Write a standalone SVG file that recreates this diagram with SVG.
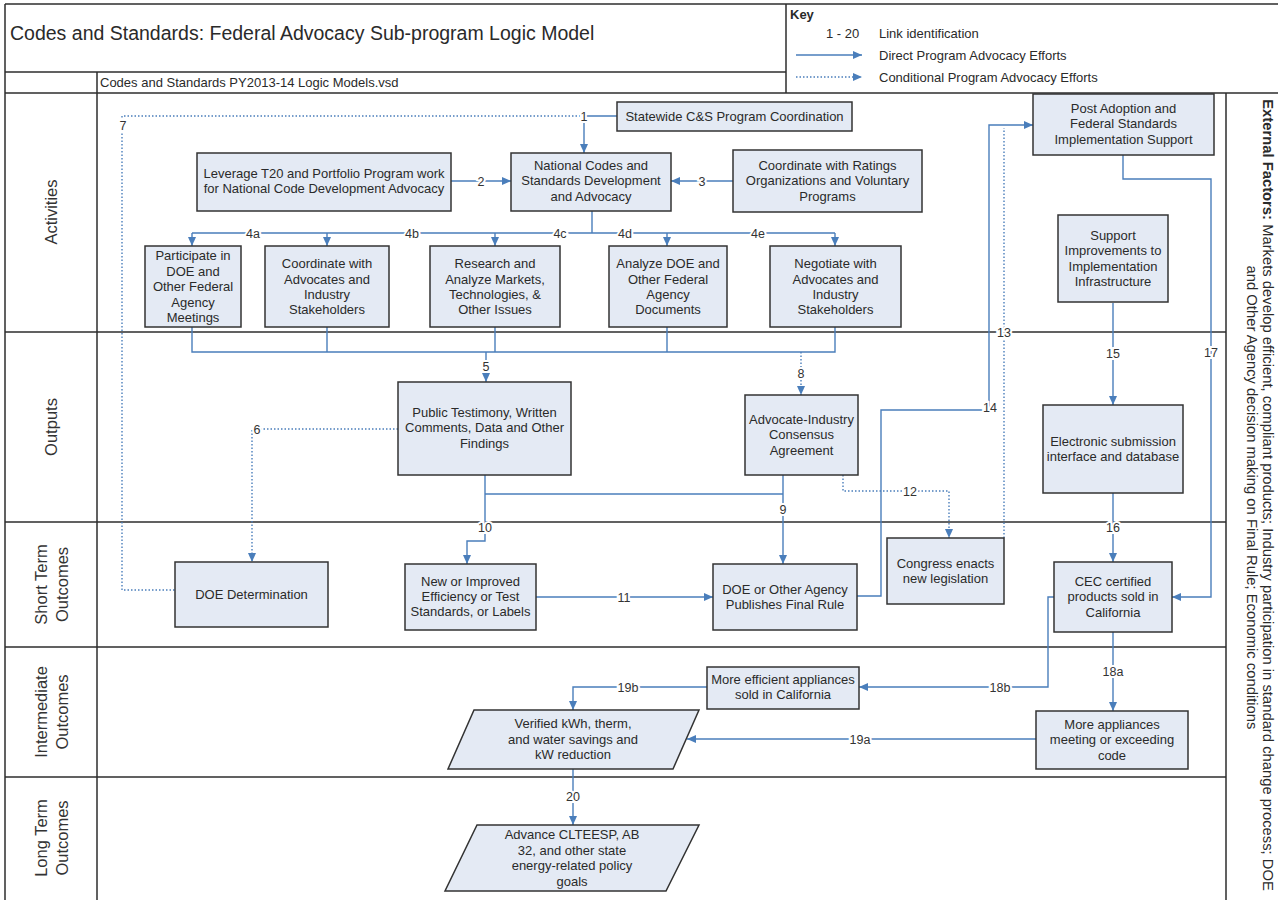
<svg xmlns="http://www.w3.org/2000/svg" width="1278" height="900" viewBox="0 0 1278 900">
<defs>
<style>
.frame{stroke:#2e2e2e;stroke-width:1.5;fill:none}
.box{fill:#E4EAF4;stroke:#333;stroke-width:1.5}
.t{font-family:"Liberation Sans",Arial,sans-serif;font-size:13px;fill:#2a2a2a;text-anchor:middle}
.c{stroke:#4A7EBB;stroke-width:1.4;fill:none}
.d{stroke:#4A7EBB;stroke-width:1.4;fill:none;stroke-dasharray:1.5 2}
.a{marker-end:url(#ah)}
.lbl{font-family:"Liberation Sans",Arial,sans-serif;font-size:12.5px;text-anchor:middle;fill:#333;stroke:#fff;stroke-width:4;paint-order:stroke}
.lane{font-family:"Liberation Sans",Arial,sans-serif;font-size:16.5px;fill:#333;text-anchor:middle}
.key{font-family:"Liberation Sans",Arial,sans-serif;font-size:13px;fill:#2a2a2a}
.ext{font-family:"Liberation Sans",Arial,sans-serif;font-size:14.8px;fill:#2a2a2a;text-anchor:middle}
</style>
<marker id="ah" markerWidth="10" markerHeight="10" refX="9" refY="5" orient="auto" markerUnits="userSpaceOnUse"><path d="M0,1 L9,5 L0,9 z" fill="#4A7EBB"/></marker>
</defs>
<rect width="1278" height="900" fill="#fff"/>
<g id="frame">
<path class="frame" d="M5,4 V900 M5,4 H1278 M5,93 H1278 M5,72 H786 M786,4 V93 M97,72 V900 M1226,93 V900 M5,332 H1226 M5,522 H1226 M5,647 H1226 M5,777 H1226"/>
<text x="10" y="40" font-family="Liberation Sans,Arial,sans-serif" font-size="19.5" fill="#2a2a2a">Codes and Standards: Federal Advocacy Sub-program Logic Model</text>
<text x="100" y="87" class="key" font-size="12.8">Codes and Standards PY2013-14 Logic Models.vsd</text>
</g>
<g id="key">
<text x="790" y="18.5" class="key" font-weight="bold" font-size="12">Key</text>
<text x="826" y="37.5" class="key">1 - 20</text>
<text x="879" y="37.5" class="key" font-size="13.4">Link identification</text>
<path class="c a" d="M796,55 H862"/>
<text x="879" y="59.5" class="key" font-size="13.4">Direct Program Advocacy Efforts</text>
<path class="d a" d="M796,77 H862"/>
<text x="879" y="81.5" class="key" font-size="13.4">Conditional Program Advocacy Efforts</text>
</g>
<g id="lanes">
<text class="lane" transform="translate(57,212) rotate(-90)">Activities</text>
<text class="lane" transform="translate(57,427) rotate(-90)">Outputs</text>
<text class="lane" transform="translate(47,584.5) rotate(-90)">Short Term</text>
<text class="lane" transform="translate(68,584.5) rotate(-90)">Outcomes</text>
<text class="lane" transform="translate(47,712) rotate(-90)">Intermediate</text>
<text class="lane" transform="translate(68,712) rotate(-90)">Outcomes</text>
<text class="lane" transform="translate(47,838) rotate(-90)">Long Term</text>
<text class="lane" transform="translate(68,838) rotate(-90)">Outcomes</text>
</g>
<g id="external">
<text class="ext" transform="translate(1263,495) rotate(90)"><tspan font-weight="bold">External Factors:</tspan> Markets develop efficient, compliant products; Industry participation in standard change process; DOE</text>
<text class="ext" transform="translate(1247,497.5) rotate(90)">and Other Agency decision making on Final Rule; Economic conditions</text>
</g>
<g id="connectors">
<path class="c a" d="M617,116 H584 V153"/>
<path class="d" d="M584,116 H122 V590 H175"/>
<path class="c a" d="M451,181 H511"/>
<path class="c a" d="M733,181 H671"/>
<path class="c" d="M592,211 V233 M192,233 H835"/>
<path class="c a" d="M192,233 V246"/>
<path class="c a" d="M327,233 V246"/>
<path class="c a" d="M495,233 V246"/>
<path class="c a" d="M667,233 V246"/>
<path class="c a" d="M835,233 V246"/>
<path class="c" d="M192,327 V352 H835 V327 M327,327 V352 M495,327 V352 M667,327 V352"/>
<path class="c a" d="M486,352 V382"/>
<path class="d a" d="M801,352 V395"/>
<path class="d a" d="M398,429 H252 V562"/>
<path class="c a" d="M783,475 V564"/>
<path class="c" d="M485,494 H783"/>
<path class="c a" d="M485,475 V541 H467 V564"/>
<path class="c a" d="M536,597 H713"/>
<path class="d a" d="M843,475 V491 H949 V538"/>
<path class="d" d="M1004,538 V128"/>
<path class="c a" d="M857,596 H881 V410 H989 V125 H1033"/>
<path class="c a" d="M1113,303 V405"/>
<path class="c a" d="M1113,493 V562"/>
<path class="c a" d="M1123,155 V179 H1211 V597 H1172"/>
<path class="c a" d="M1113,632 V711"/>
<path class="c a" d="M1054,597 H1048 V687 H859"/>
<path class="c a" d="M707,687 H573 V710"/>
<path class="c a" d="M1036,739 H687"/>
<path class="c a" d="M573,769 V825"/>
<text class="lbl" x="584" y="120.5">1</text>
<text class="lbl" x="123" y="129.5">7</text>
<text class="lbl" x="481" y="185.5">2</text>
<text class="lbl" x="702" y="185.5">3</text>
<text class="lbl" x="253" y="237.5">4a</text>
<text class="lbl" x="412" y="237.5">4b</text>
<text class="lbl" x="560" y="237.5">4c</text>
<text class="lbl" x="625" y="237.5">4d</text>
<text class="lbl" x="758" y="237.5">4e</text>
<text class="lbl" x="486" y="370.5">5</text>
<text class="lbl" x="801" y="377.5">8</text>
<text class="lbl" x="257" y="433.5">6</text>
<text class="lbl" x="783" y="513.5">9</text>
<text class="lbl" x="485" y="531.5">10</text>
<text class="lbl" x="624" y="601.5">11</text>
<text class="lbl" x="910" y="495.5">12</text>
<text class="lbl" x="1004" y="336.5">13</text>
<text class="lbl" x="990" y="412">14</text>
<text class="lbl" x="1113" y="357.5">15</text>
<text class="lbl" x="1113" y="531.5">16</text>
<text class="lbl" x="1211" y="356.5">17</text>
<text class="lbl" x="1113" y="675.5">18a</text>
<text class="lbl" x="1000" y="691.5">18b</text>
<text class="lbl" x="628" y="691.5">19b</text>
<text class="lbl" x="860" y="743.5">19a</text>
<text class="lbl" x="573" y="800.5">20</text>
</g>
<g id="n-statewide"><rect class="box" x="617" y="102" width="235" height="29"/><text class="t" x="734.5" y="121">Statewide  C&amp;S Program Coordination</text></g>
<g id="n-leverage"><rect class="box" x="197" y="153" width="254" height="58"/><text class="t" x="324" y="177.5">Leverage T20 and Portfolio Program work</text><text class="t" x="324" y="193">for National Code Development Advocacy</text></g>
<g id="n-national"><rect class="box" x="511" y="153" width="160" height="58"/><text class="t" x="591" y="169.5">National Codes and</text><text class="t" x="591" y="184.5">Standards Development</text><text class="t" x="591" y="200.5">and Advocacy</text></g>
<g id="n-ratings"><rect class="box" x="733" y="150" width="189" height="62"/><text class="t" x="827.5" y="169.5">Coordinate with Ratings</text><text class="t" x="827.5" y="184.5">Organizations and Voluntary</text><text class="t" x="827.5" y="200.5">Programs</text></g>
<g id="n-participate"><rect class="box" x="145" y="246" width="96" height="81"/><text class="t" x="193" y="260">Participate in</text><text class="t" x="193" y="275.5">DOE and</text><text class="t" x="193" y="291">Other Federal</text><text class="t" x="193" y="306.5">Agency</text><text class="t" x="193" y="322">Meetings</text></g>
<g id="n-coord-adv"><rect class="box" x="265" y="246" width="124" height="81"/><text class="t" x="327" y="268">Coordinate with</text><text class="t" x="327" y="283.5">Advocates and</text><text class="t" x="327" y="299">Industry</text><text class="t" x="327" y="314">Stakeholders</text></g>
<g id="n-research"><rect class="box" x="430" y="246" width="130" height="81"/><text class="t" x="495" y="268">Research and</text><text class="t" x="495" y="283.5">Analyze Markets,</text><text class="t" x="495" y="299">Technologies, &amp;</text><text class="t" x="495" y="314">Other Issues</text></g>
<g id="n-analyze"><rect class="box" x="609" y="246" width="118" height="81"/><text class="t" x="668" y="268">Analyze DOE and</text><text class="t" x="668" y="283.5">Other Federal</text><text class="t" x="668" y="299">Agency</text><text class="t" x="668" y="314">Documents</text></g>
<g id="n-negotiate"><rect class="box" x="770" y="246" width="131" height="81"/><text class="t" x="835.5" y="268">Negotiate with</text><text class="t" x="835.5" y="283.5">Advocates and</text><text class="t" x="835.5" y="299">Industry</text><text class="t" x="835.5" y="314">Stakeholders</text></g>
<g id="n-postadoption"><rect class="box" x="1033" y="94" width="181" height="61"/><text class="t" x="1123.5" y="112.5">Post Adoption and</text><text class="t" x="1123.5" y="128">Federal Standards</text><text class="t" x="1123.5" y="143.5">Implementation Support</text></g>
<g id="n-support"><rect class="box" x="1058" y="215" width="110" height="87"/><text class="t" x="1113" y="239.5">Support</text><text class="t" x="1113" y="255">Improvements to</text><text class="t" x="1113" y="270.5">Implementation</text><text class="t" x="1113" y="286">Infrastructure</text></g>
<g id="n-testimony"><rect class="box" x="398" y="382" width="173" height="93"/><text class="t" x="484.5" y="416.5">Public Testimony, Written</text><text class="t" x="484.5" y="432">Comments, Data and Other</text><text class="t" x="484.5" y="447.5">Findings</text></g>
<g id="n-consensus"><rect class="box" x="745" y="395" width="113" height="80"/><text class="t" x="801.5" y="423.5">Advocate-Industry</text><text class="t" x="801.5" y="439">Consensus</text><text class="t" x="801.5" y="454.5">Agreement</text></g>
<g id="n-electronic"><rect class="box" x="1043" y="405" width="140" height="88"/><text class="t" x="1113" y="445.5">Electronic submission</text><text class="t" x="1113" y="461">interface and database</text></g>
<g id="n-doedet"><rect class="box" x="175" y="562" width="153" height="65"/><text class="t" x="251.5" y="599">DOE Determination</text></g>
<g id="n-newstd"><rect class="box" x="405" y="564" width="131" height="66"/><text class="t" x="470.5" y="585.5">New or Improved</text><text class="t" x="470.5" y="601">Efficiency or Test</text><text class="t" x="470.5" y="616">Standards, or Labels</text></g>
<g id="n-finalrule"><rect class="box" x="713" y="564" width="144" height="66"/><text class="t" x="785" y="593.5">DOE or Other Agency</text><text class="t" x="785" y="608.5">Publishes Final Rule</text></g>
<g id="n-congress"><rect class="box" x="887" y="538" width="117" height="66"/><text class="t" x="945.5" y="567.5">Congress enacts</text><text class="t" x="945.5" y="583">new legislation</text></g>
<g id="n-cec"><rect class="box" x="1054" y="562" width="118" height="70"/><text class="t" x="1113" y="585.5">CEC certified</text><text class="t" x="1113" y="601">products sold in</text><text class="t" x="1113" y="616.5">California</text></g>
<g id="n-moreeff"><rect class="box" x="707" y="667" width="152" height="42"/><text class="t" x="783" y="683.5">More efficient appliances</text><text class="t" x="783" y="698.5">sold in California</text></g>
<g id="n-moreapp"><rect class="box" x="1036" y="711" width="152" height="58"/><text class="t" x="1112" y="728.5">More appliances</text><text class="t" x="1112" y="744">meeting or exceeding</text><text class="t" x="1112" y="759.5">code</text></g>
<g id="n-verified"><path class="box" d="M474,710 H699 L673,769 H448 Z"/><text class="t" x="573" y="727.5">Verified kWh, therm,</text><text class="t" x="573" y="743.5">and water savings and</text><text class="t" x="573" y="758.5">kW reduction</text></g>
<g id="n-advance"><path class="box" d="M477,825 H699 L666,891 H445 Z"/><text class="t" x="572" y="838.5">Advance CLTEESP, AB</text><text class="t" x="572" y="854.5">32, and other state</text><text class="t" x="572" y="869.5">energy-related policy</text><text class="t" x="572" y="885.5">goals</text></g>
</svg>
